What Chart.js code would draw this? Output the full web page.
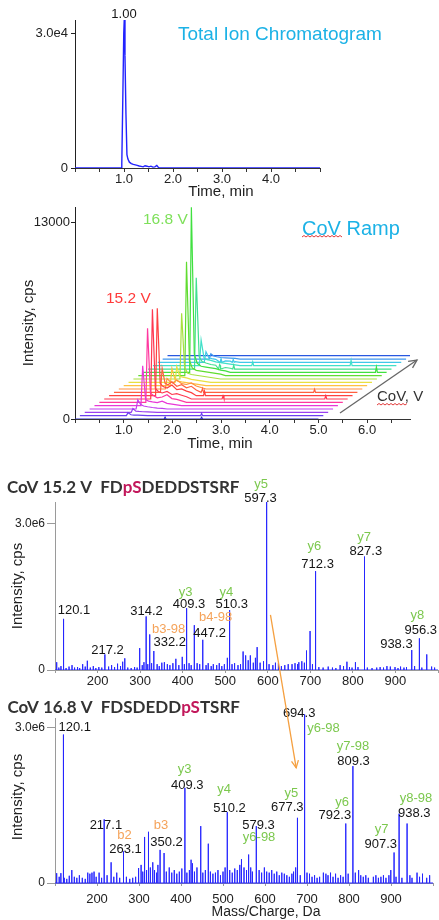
<!DOCTYPE html>
<html>
<head>
<meta charset="utf-8">
<script src="https://cdn.jsdelivr.net/npm/chart.js@4.4.0/dist/chart.umd.min.js"></script>
<style>
  body { margin: 0; background: #fff; }
  .wrap { position: relative; width: 439px; height: 920px; }
  .wrap canvas { position: absolute; left: 0; top: 0; }
</style>
</head>
<body>
<div class="wrap">
  <canvas id="tic" width="439" height="920"></canvas>
  <canvas id="ramp" width="439" height="920"></canvas>
  <canvas id="ms1" width="439" height="920"></canvas>
  <canvas id="ms2" width="439" height="920"></canvas>
</div>
<script>
// ---- Total ion chromatogram (time in min, intensity in cps)
const ticTime = [0, 0.94, 0.955, 0.975, 0.995, 1.005, 1.02, 1.04, 1.06, 1.08, 1.11, 1.15, 1.19, 1.23, 1.27, 1.31, 1.35, 1.39, 1.43, 1.47, 1.51, 1.55, 1.59, 1.63, 1.67, 1.69, 1.72, 5.0];
const ticIntensity = [0, 0, 1000, 15000, 30000, 33000, 25000, 12000, 3000, 2000, 1300, 1000, 800, 700, 600, 450, 350, 250, 500, 400, 250, 400, 200, 250, 550, 300, 0, 0];
const ticPeakTime = 1.00;
const ticYTicks = [0, 30000];
const ticYLabels = ['0', '3.0e4'];

// ---- CoV ramp: one trace per compensation voltage step (front to back)
const covSteps = [14.0, 14.2, 14.4, 14.6, 14.8, 15.0, 15.2, 15.4, 15.6, 15.8, 16.0, 16.2, 16.4, 16.6, 16.8, 17.0, 17.2, 17.4, 17.6, 17.8];
const rampPeakTime = 0.99;
const rampPeakHeight = [0, 200, 250, 600, 2640, 4890, 5920, 5770, 1590, 700, 1150, 1050, 4340, 7520, 10900, 6030, 1700, 700, 350, 0];
const rampTailOffsets = [0.06, 0.12, 0.2, 0.3, 0.4, 0.5, 0.6, 0.7];
const rampTail = [
  [0, 0, 0, 0, 0, 0, 0, 0],
  [60, 40, 30, 20, 0, 0, 0, 0],
  [80, 60, 40, 30, 20, 0, 0, 0],
  [300, 200, 150, 100, 60, 40, 0, 0],
  [400, 300, 250, 200, 300, 150, 100, 50],
  [600, 450, 300, 350, 500, 250, 200, 100],
  [700, 500, 400, 500, 300, 350, 250, 150],
  [800, 600, 500, 700, 400, 450, 300, 200],
  [600, 500, 700, 400, 500, 300, 400, 150],
  [500, 400, 600, 350, 300, 400, 200, 100],
  [450, 300, 250, 200, 150, 100, 50, 0],
  [400, 350, 300, 200, 150, 100, 50, 0],
  [800, 400, 300, 250, 200, 150, 100, 50],
  [1000, 500, 350, 300, 250, 200, 150, 100],
  [1200, 600, 400, 350, 300, 250, 150, 100],
  [800, 500, 400, 300, 250, 200, 100, 50],
  [500, 400, 350, 250, 200, 150, 100, 50],
  [300, 250, 200, 150, 100, 80, 50, 0],
  [200, 150, 100, 80, 60, 40, 0, 0],
  [0, 0, 0, 0, 0, 0, 0, 0]
];
// isolated small spikes: [step index, time, height]
const rampSpikes = [[0, 1.85, 120], [0, 2.6, 120], [1, 2.5, 150], [6, 2.44, 200], [6, 4.55, 220], [8, 1.82, 250], [8, 4.12, 200], [7, 1.96, 300], [15, 1.47, 300], [15, 1.76, 250], [16, 2.05, 250], [16, 4.07, 350], [14, 4.79, 350], [17, 1.3, 250], [17, 1.55, 200]];
const rampYTicks = [0, 13000];
const rampYLabels = ['0', '13000'];

// ---- MS/MS spectra: [m/z, intensity in 1e6 cps]
const ms1Peaks = [[120.1, 1.05], [217.2, 0.32], [264, 0.24], [299, 0.45], [314.2, 1.10], [322.6, 0.73], [332.2, 0.39], [409.3, 1.27], [427.4, 0.92], [447.2, 0.62], [510.3, 1.23], [542, 0.38], [575, 0.47], [597.3, 3.45], [691, 0.40], [699.4, 0.80], [712.3, 2.03], [827.3, 2.33], [938.3, 0.41], [956.3, 0.65], [973.6, 0.32]];
const ms1Noise = [[104,0.16],[109,0.05],[114,0.08],[126,0.04],[133,0.07],[140,0.10],[146,0.05],[153,0.06],[158,0.04],[165,0.12],[171,0.07],[176,0.19],[183,0.05],[190,0.08],[196,0.04],[203,0.06],[210,0.05],[226,0.07],[233,0.10],[240,0.06],[247,0.13],[254,0.08],[259,0.17],[271,0.05],[279,0.04],[287,0.06],[293,0.05],[305,0.10],[309,0.16],[318,0.12],[327,0.14],[340,0.12],[345,0.08],[351,0.15],[357,0.16],[364,0.12],[370,0.10],[377,0.14],[384,0.23],[391,0.10],[399,0.27],[404,0.12],[415,0.14],[420,0.10],[434,0.14],[440,0.12],[455,0.10],[460,0.14],[467,0.08],[472,0.12],[480,0.10],[486,0.14],[492,0.08],[498,0.12],[505,0.25],[516,0.12],[522,0.14],[530,0.10],[536,0.12],[548,0.30],[554,0.20],[559,0.30],[566,0.15],[571,0.25],[582,0.15],[590,0.18],[603,0.12],[612,0.10],[618,0.15],[625,0.14],[632,0.08],[640,0.10],[648,0.12],[657,0.12],[664,0.14],[670,0.12],[673,0.16],[680,0.18],[686,0.15],[705,0.12],[720,0.06],[730,0.05],[742,0.07],[752,0.05],[760,0.04],[770,0.10],[778,0.08],[786,0.17],[792,0.06],[798,0.05],[806,0.16],[812,0.06],[834,0.05],[845,0.04],[856,0.05],[864,0.06],[872,0.05],[880,0.08],[888,0.07],[899,0.06],[906,0.04],[912,0.07],[920,0.05],[926,0.06],[945,0.08],[962,0.05],[985,0.07],[992,0.05]];

const ms2Peaks = [[120.1, 2.87], [217.1, 1.23], [233.6, 0.40], [263.1, 0.61], [313.3, 0.89], [322.6, 0.99], [332.8, 0.40], [350.2, 0.64], [359.7, 0.58], [409.3, 1.84], [427.4, 0.38], [447, 1.10], [465, 0.76], [510.2, 1.37], [544, 0.46], [561, 0.55], [579.3, 1.10], [598.5, 0.30], [673, 0.30], [677.3, 1.26], [694.3, 3.26], [739, 0.20], [792.3, 1.15], [809.3, 2.26], [822.9, 0.25], [899.5, 0.25], [907.3, 0.59], [919.3, 1.34], [938.3, 1.15]];
const ms2Noise = [[104,0.19],[110,0.12],[114,0.19],[122,0.10],[128,0.08],[134,0.14],[140,0.25],[146,0.12],[152,0.10],[158,0.15],[165,0.10],[172,0.08],[178,0.20],[183,0.18],[188,0.20],[193,0.22],[198,0.12],[205,0.20],[211,0.10],[224,0.15],[240,0.12],[247,0.20],[254,0.10],[270,0.12],[278,0.08],[285,0.10],[292,0.12],[299,0.29],[305,0.35],[309,0.22],[318,0.25],[327,0.30],[337,0.25],[342,0.20],[345,0.35],[365,0.22],[372,0.30],[378,0.20],[384,0.25],[390,0.18],[396,0.22],[402,0.28],[414,0.20],[420,0.25],[424,0.45],[432,0.22],[438,0.30],[452,0.20],[458,0.25],[470,0.22],[476,0.18],[482,0.20],[488,0.25],[494,0.15],[500,0.22],[505,0.30],[516,0.25],[522,0.20],[528,0.28],[534,0.25],[540,0.35],[550,0.30],[556,0.25],[566,0.30],[570,0.22],[586,0.25],[592,0.20],[604,0.22],[610,0.20],[616,0.25],[622,0.18],[628,0.22],[634,0.15],[640,0.20],[646,0.18],[652,0.15],[658,0.12],[664,0.18],[668,0.22],[684,0.15],[700,0.20],[706,0.18],[712,0.12],[718,0.15],[724,0.10],[730,0.12],[745,0.18],[750,0.15],[756,0.20],[762,0.12],[768,0.18],[774,0.10],[780,0.15],[786,0.12],[798,0.18],[815,0.20],[828,0.15],[834,0.12],[840,0.15],[846,0.10],[858,0.12],[864,0.15],[870,0.10],[876,0.12],[882,0.15],[888,0.10],[895,0.15],[912,0.12],[926,0.10],[945,0.15],[950,0.10],[962,0.20],[968,0.12],[975,0.18],[985,0.10],[992,0.15]];
const msYTicks = [0, 3];
const msYLabels = ['0', '3.0e6'];

// fragment annotations: [text, kind, m/z, intensity]
const ms1Labels = [
  ['y5', 'ion', 584.5, 3.815], ['597.3', 'mz', 582.8, 3.528],
  ['y6', 'ion', 709.4, 2.534], ['712.3', 'mz', 717.1, 2.172],
  ['y7', 'ion', 826.6, 2.727], ['827.3', 'mz', 830.5, 2.431],
  ['y3', 'ion', 407, 1.588], ['409.3', 'mz', 414.8, 1.35],
  ['y4', 'ion', 502.4, 1.588], ['510.3', 'mz', 515.5, 1.35],
  ['120.1', 'mz', 144.5, 1.233], ['314.2', 'mz', 314.9, 1.198],
  ['b3-98', 'b', 367.2, 0.842], ['332.2', 'mz', 369.5, 0.561],
  ['b4-98', 'b', 477.3, 1.083], ['447.2', 'mz', 463.3, 0.754],
  ['217.2', 'mz', 223.5, 0.411],
  ['y8', 'ion', 951.5, 1.116], ['956.3', 'mz', 959.4, 0.822],
  ['938.3', 'mz', 902.3, 0.528]
];
const ms2Labels = [
  ['120.1', 'mz', 146.9, 3.006], ['694.3', 'mz', 681.3, 3.284], ['y6-98', 'ion', 739.2, 2.994],
  ['y7-98', 'ion', 809.5, 2.638], ['809.3', 'mz', 810.9, 2.348],
  ['y3', 'ion', 408.7, 2.187], ['409.3', 'mz', 414.8, 1.877],
  ['y4', 'ion', 502.4, 1.813], ['510.2', 'mz', 515.5, 1.446],
  ['y5', 'ion', 662.5, 1.736], ['677.3', 'mz', 653.1, 1.465],
  ['y6', 'ion', 783.7, 1.554], ['792.3', 'mz', 766.3, 1.316],
  ['y8-98', 'ion', 959.4, 1.639], ['938.3', 'mz', 955.5, 1.349],
  ['y7', 'ion', 877.4, 1.039], ['907.3', 'mz', 875.8, 0.755],
  ['217.1', 'mz', 221.2, 1.109], ['b2', 'b', 265.7, 0.915], ['263.1', 'mz', 268, 0.658],
  ['b3', 'b', 352.4, 1.109], ['350.2', 'mz', 365.5, 0.788],
  ['579.3', 'mz', 584.5, 1.109], ['y6-98', 'ion', 585.9, 0.877]
];
// arrow from the 15.2 V spectrum to the 16.8 V spectrum: [m/z, intensity]
const shiftFrom = [606.3, 1.13];
const shiftTo = [674.2, 2.226];

// ---- styles
const SANS = "'Liberation Sans', Arial, sans-serif";
const TITLE_FONT = "bold 17px Lato, 'Liberation Sans', sans-serif";
const W = 439, H = 920;
const RAMP_DX = 0.1, RAMP_DY = 220;
const traceColors = ['#2828c8', '#6a40f0', '#9a40f0', '#c040f0', '#e838d8', '#ff38a0', '#ff3850', '#ff4040', '#ff6040', '#ff9040', '#ffc040', '#e8e040', '#a8e040', '#60dc30', '#40e040', '#40e090', '#40e0c8', '#40c8e8', '#4098f0', '#2858e0'];
const labelColors = { ion: '#7cc84e', b: '#f5a35a', mz: '#151515' };

Chart.defaults.font.family = SANS;
Chart.defaults.color = '#222';

function frame(area, xh) {
  return { autoPadding: false, padding: { left: 0, top: area.top, right: W - area.right, bottom: H - area.bottom - xh } };
}

function text(ctx, s, x, y, color, font, align, base) {
  ctx.save();
  ctx.font = font; ctx.fillStyle = color;
  ctx.textAlign = align || 'center'; ctx.textBaseline = base || 'middle';
  ctx.fillText(s, x, y);
  ctx.restore();
}

function vtext(ctx, s, x, y, font) {
  ctx.save();
  ctx.translate(x, y); ctx.rotate(-Math.PI / 2);
  text(ctx, s, 0, 0, '#222', font);
  ctx.restore();
}

function arrow(ctx, x1, y1, x2, y2, color, head) {
  ctx.save();
  ctx.strokeStyle = color; ctx.lineWidth = 1.3;
  ctx.beginPath(); ctx.moveTo(x1, y1); ctx.lineTo(x2, y2); ctx.stroke();
  const a = Math.atan2(y2 - y1, x2 - x1);
  ctx.beginPath();
  ctx.moveTo(x2 - head * Math.cos(a - 0.45), y2 - head * Math.sin(a - 0.45));
  ctx.lineTo(x2, y2);
  ctx.lineTo(x2 - head * Math.cos(a + 0.45), y2 - head * Math.sin(a + 0.45));
  ctx.stroke();
  ctx.restore();
}

// spell-check style wavy underline seen in the original slide
function squiggle(ctx, x1, x2, y) {
  ctx.save();
  ctx.strokeStyle = '#e03a3a'; ctx.lineWidth = 1;
  ctx.beginPath(); ctx.moveTo(x1, y);
  let up = true;
  for (let x = x1 + 2; x <= x2; x += 2) { ctx.lineTo(x, up ? y - 1.5 : y); up = !up; }
  ctx.stroke();
  ctx.restore();
}

function richTitle(ctx, parts, x, y) {
  ctx.save();
  ctx.font = TITLE_FONT; ctx.textAlign = 'left'; ctx.textBaseline = 'alphabetic';
  parts.forEach(([s, c]) => { ctx.fillStyle = c; ctx.fillText(s, x, y); x += ctx.measureText(s).width; });
  ctx.restore();
}

function timeAxis(min, max, lastLabel, color) {
  return {
    type: 'linear', min, max,
    afterFit: s => { s.height = 30; },
    border: { display: true, color, width: 1 },
    grid: { drawOnChartArea: false, drawTicks: true, tickLength: 4, color },
    ticks: {
      stepSize: 0.5, includeBounds: false, autoSkip: false, maxRotation: 0, padding: 0,
      font: { size: 13 }, color: '#222',
      callback: v => (v >= 1 && v <= lastLabel && Math.abs(v - Math.round(v)) < 1e-6) ? v.toFixed(1) : ''
    }
  };
}

function countAxis(min, max, values, labels, width, opt) {
  return {
    type: 'linear', min, max,
    afterFit: s => { s.width = width; },
    afterBuildTicks: s => { s.ticks = values.map(v => ({ value: v })); },
    border: { display: true, color: opt.color, width: 1 },
    grid: { drawOnChartArea: false, drawTicks: true, tickLength: opt.tick, color: opt.color },
    ticks: { padding: opt.pad, font: { size: opt.size }, color: '#222', callback: (v, i) => labels[i] }
  };
}

function mzAxis(pad) {
  return {
    type: 'linear', min: 100, max: 1000,
    afterFit: s => { s.height = 30; },
    border: { display: true, color: '#9a9a9a', width: 1 },
    grid: { drawOnChartArea: false, drawTicks: true, tickLength: 3, color: '#9a9a9a' },
    ticks: { stepSize: 100, autoSkip: false, maxRotation: 0, padding: pad, font: { size: 13 }, color: '#222',
      callback: v => (v >= 200 && v <= 900) ? String(v) : '' }
  };
}

function sticks(peaks, noise) {
  const all = peaks.concat(noise).sort((a, b) => a[0] - b[0]);
  const out = [{ x: 100, y: 0 }];
  all.forEach(([m, h]) => { out.push({ x: m, y: 0 }, { x: m, y: h }, { x: m, y: 0 }); });
  out.push({ x: 1000, y: 0 });
  return out;
}

function rampTrace(k) {
  const pts = [[0, 0], [5.0, 0]];
  const h = rampPeakHeight[k];
  if (h > 0) {
    pts.push([rampPeakTime - 0.035, 0], [rampPeakTime, h]);
    rampTailOffsets.forEach((o, j) => pts.push([rampPeakTime + o, rampTail[k][j]]));
    pts.push([rampPeakTime + 0.8, 0]);
  }
  rampSpikes.filter(s => s[0] === k).forEach(([, t, v]) => pts.push([t - 0.02, 0], [t, v], [t + 0.02, 0]));
  pts.sort((a, b) => a[0] - b[0]);
  // waterfall: each CoV step is shifted right and up
  return pts.map(([t, v]) => ({ x: t + k * RAMP_DX, y: v + k * RAMP_DY }));
}

function drawLabels(chart, labels) {
  const { x, y } = chart.scales;
  labels.forEach(([s, kind, m, v]) =>
    text(chart.ctx, s, x.getPixelForValue(m), y.getPixelForValue(v), labelColors[kind], '13px ' + SANS));
}

const baseOptions = {
  responsive: false, animation: false, events: [],
  plugins: { legend: { display: false }, tooltip: { enabled: false } }
};

// ---- panel 1: TIC
const TIC_AREA = { left: 75, right: 320, top: 20, bottom: 168 };
new Chart(document.getElementById('tic'), {
  type: 'line',
  data: { datasets: [{ data: ticTime.map((t, i) => ({ x: t, y: ticIntensity[i] })), borderColor: '#2222ff', borderWidth: 1.4, pointRadius: 0, tension: 0 }] },
  options: Object.assign({}, baseOptions, {
    layout: frame(TIC_AREA, 30),
    scales: {
      x: timeAxis(0, 5.0, 4, '#333'),
      y: countAxis(0, 33000, ticYTicks, ticYLabels, TIC_AREA.left, { color: '#222', tick: 4, pad: 3, size: 13 })
    }
  }),
  plugins: [{
    id: 'ticDecor',
    afterDraw(c) {
      const ctx = c.ctx;
      text(ctx, 'Total Ion Chromatogram', 178, 39.5, '#1cb2e6', '19px ' + SANS, 'left', 'alphabetic');
      text(ctx, ticPeakTime.toFixed(2), c.scales.x.getPixelForValue(ticPeakTime), c.chartArea.top - 6, '#151515', '13px ' + SANS);
      text(ctx, 'Time, min', 221, 192, '#222', '15px ' + SANS);
    }
  }]
});

// ---- panel 2: CoV ramp waterfall
const RAMP_AREA = { left: 75, right: 410, top: 207, bottom: 419 };
new Chart(document.getElementById('ramp'), {
  type: 'line',
  data: {
    datasets: covSteps.map((cov, k) => ({
      label: cov.toFixed(1) + ' V', data: rampTrace(k),
      borderColor: traceColors[k], borderWidth: 1.2, pointRadius: 0, tension: 0
    }))
  },
  options: Object.assign({}, baseOptions, {
    layout: frame(RAMP_AREA, 30),
    scales: {
      x: timeAxis(0, 6.88, 6, '#333'),
      y: countAxis(0, 14000, rampYTicks, rampYLabels, RAMP_AREA.left, { color: '#222', tick: 4, pad: 1, size: 13 })
    }
  }),
  plugins: [{
    id: 'rampDecor',
    afterDraw(c) {
      const ctx = c.ctx;
      text(ctx, 'CoV Ramp', 302, 234.5, '#1cb2e6', '20px ' + SANS, 'left', 'alphabetic');
      squiggle(ctx, 302, 343, 237);
      text(ctx, covSteps[14].toFixed(1) + ' V', 143, 223.5, '#7ee05a', '15.5px ' + SANS, 'left', 'alphabetic');
      text(ctx, covSteps[6].toFixed(1) + ' V', 106, 302.5, '#ff3a3a', '15.5px ' + SANS, 'left', 'alphabetic');
      text(ctx, 'CoV, V', 377, 401, '#333', '15px ' + SANS, 'left', 'alphabetic');
      squiggle(ctx, 377, 407, 405);
      arrow(ctx, 340, 413, 417, 360, '#666', 9);
      vtext(ctx, 'Intensity, cps', 29, 323, '15px ' + SANS);
      text(ctx, 'Time, min', 220, 444, '#222', '15px ' + SANS);
    }
  }]
});

// ---- panel 3: MS/MS at 15.2 V
const MS1_AREA = { left: 55, right: 439, top: 502, bottom: 670 };
const ms1Chart = new Chart(document.getElementById('ms1'), {
  type: 'line',
  data: { datasets: [{ data: sticks(ms1Peaks, ms1Noise), borderColor: '#2626ff', borderWidth: 1, pointRadius: 0, tension: 0 }] },
  options: Object.assign({}, baseOptions, {
    layout: frame(MS1_AREA, 30),
    scales: {
      x: mzAxis(1),
      y: countAxis(0, 3.45, msYTicks, msYLabels, MS1_AREA.left, { color: '#9a9a9a', tick: 8, pad: 2, size: 12 })
    }
  }),
  plugins: [{
    id: 'ms1Decor',
    afterDraw(c) {
      const ctx = c.ctx;
      richTitle(ctx, [['CoV 15.2 V  FD', '#333'], ['pS', '#c2185b'], ['DEDDSTSRF', '#333']], 7, 493);
      vtext(ctx, 'Intensity, cps', 18, 586, '15px ' + SANS);
      drawLabels(c, ms1Labels);
    }
  }]
});

// ---- panel 4: MS/MS at 16.8 V
const MS2_AREA = { left: 55, right: 439, top: 718, bottom: 883 };
new Chart(document.getElementById('ms2'), {
  type: 'line',
  data: { datasets: [{ data: sticks(ms2Peaks, ms2Noise), borderColor: '#2626ff', borderWidth: 1, pointRadius: 0, tension: 0, clip: false }] },
  options: Object.assign({}, baseOptions, {
    layout: frame(MS2_AREA, 30),
    scales: {
      x: mzAxis(6),
      y: countAxis(0, 3.19, msYTicks, msYLabels, MS2_AREA.left, { color: '#9a9a9a', tick: 8, pad: 2, size: 12 })
    }
  }),
  plugins: [{
    id: 'ms2Decor',
    afterDraw(c) {
      const ctx = c.ctx;
      richTitle(ctx, [['CoV 16.8 V  FDSDEDD', '#333'], ['pS', '#c2185b'], ['TSRF', '#333']], 7.5, 713);
      vtext(ctx, 'Intensity, cps', 18, 797, '15px ' + SANS);
      text(ctx, 'Mass/Charge, Da', 266, 912, '#222', '14px ' + SANS);
      drawLabels(c, ms2Labels);
      const s1 = ms1Chart.scales, s2 = c.scales;
      arrow(ctx, s1.x.getPixelForValue(shiftFrom[0]), s1.y.getPixelForValue(shiftFrom[1]),
        s2.x.getPixelForValue(shiftTo[0]), s2.y.getPixelForValue(shiftTo[1]), '#f5a040', 8);
    }
  }]
});
</script>
</body>
</html>
